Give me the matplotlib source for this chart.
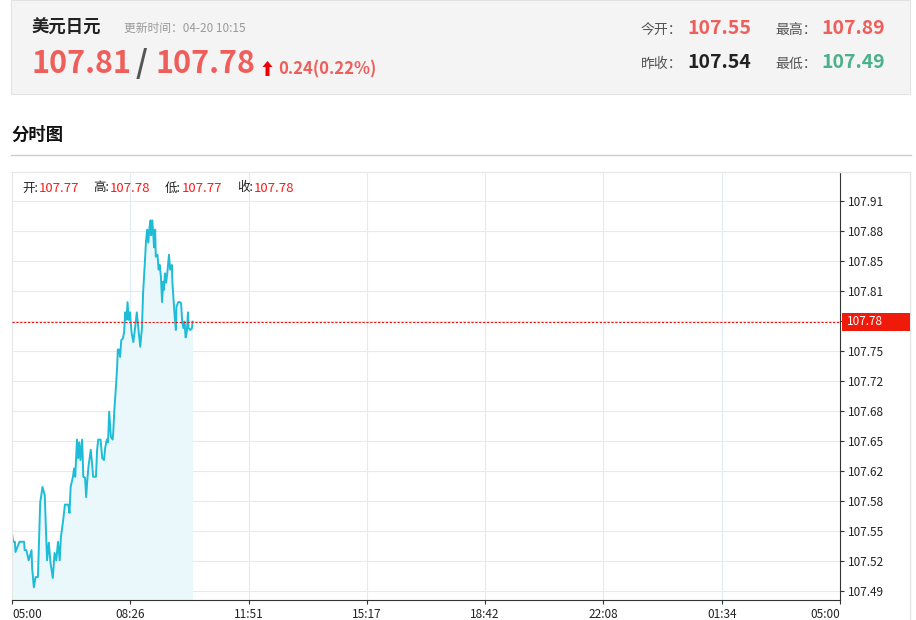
import matplotlib as mpl
mpl.use('Agg')
import matplotlib.pyplot as plt
from matplotlib.patches import Rectangle, Polygon
from matplotlib.lines import Line2D
import numpy as np

plt.rcParams['font.family'] = ['Noto Sans CJK SC', 'DejaVu Sans']

# quote header
pair_name = "美元日元"
update_time = "更新时间：04-20 10:15"
bid, ask = "107.81", "107.78"
change = "0.24(0.22%)"
stats = [("今开：", "107.55"), ("最高：", "107.89"),
         ("昨收：", "107.54"), ("最低：", "107.49")]
ohlc = [("开:", "107.77"), ("高:", "107.78"), ("低:", "107.77"), ("收:", "107.78")]
last_price = 107.78

# minutes after 05:00 and price
minutes = [0, 2, 5, 6, 13, 21, 22, 25, 29, 34, 35, 38, 41, 45, 46, 49, 53, 57, 59, 61,
           64, 67, 71, 74, 77, 80, 83, 85, 89, 92, 98, 100, 102, 106, 108, 110, 113, 115,
           117, 119, 122, 124, 127, 129, 131, 133, 137, 140, 141, 146, 148, 150, 154, 157,
           160, 162, 165, 167, 169, 172, 175, 176, 178, 181, 183, 184, 186, 188, 190, 193,
           195, 197, 199, 201, 203, 205, 208, 211, 214, 217, 220, 223, 226, 228, 231, 233,
           235, 237, 239, 241, 242, 244, 246, 247, 249, 250, 253, 255, 257, 259, 261, 263,
           264, 266, 268, 270, 273, 275, 278, 279, 281, 283, 285, 286, 289, 292, 294, 296,
           298, 300, 302, 304, 306, 307, 310, 313, 314]
prices = [107.552, 107.543, 107.543, 107.532, 107.543, 107.543, 107.534, 107.534, 107.523,
          107.534, 107.515, 107.494, 107.505, 107.505, 107.523, 107.585, 107.602, 107.593,
          107.556, 107.523, 107.542, 107.520, 107.504, 107.531, 107.523, 107.543, 107.523,
          107.548, 107.566, 107.583, 107.583, 107.574, 107.602, 107.613, 107.622, 107.613,
          107.653, 107.633, 107.650, 107.631, 107.653, 107.613, 107.612, 107.591, 107.610,
          107.624, 107.642, 107.622, 107.613, 107.613, 107.642, 107.653, 107.653, 107.633,
          107.631, 107.644, 107.653, 107.650, 107.683, 107.656, 107.653, 107.660, 107.685,
          107.712, 107.733, 107.750, 107.750, 107.742, 107.760, 107.762, 107.769, 107.790,
          107.782, 107.801, 107.782, 107.790, 107.768, 107.758, 107.773, 107.790, 107.771,
          107.753, 107.773, 107.811, 107.843, 107.866, 107.879, 107.865, 107.881, 107.889,
          107.873, 107.889, 107.871, 107.860, 107.879, 107.850, 107.852, 107.836, 107.841,
          107.828, 107.801, 107.823, 107.814, 107.832, 107.822, 107.832, 107.852, 107.836,
          107.841, 107.822, 107.803, 107.785, 107.771, 107.796, 107.801, 107.801, 107.800,
          107.780, 107.773, 107.780, 107.763, 107.769, 107.790, 107.773, 107.771, 107.773,
          107.780]

x_labels = ["05:00", "08:26", "11:51", "15:17", "18:42", "22:08", "01:34", "05:00"]
y_labels = ["107.49", "107.52", "107.55", "107.58", "107.62", "107.65", "107.68",
            "107.72", "107.75", "107.78", "107.81", "107.85", "107.88", "107.91"]

W, H = 916, 620
fig = plt.figure(figsize=(W / 100, H / 100), dpi=100)
fig.patch.set_facecolor('white')

def fx(x):
    return x / W

def fy(y):
    return 1 - y / H

RED = '#ee5f5b'

# header box
fig.patches.append(Rectangle((fx(11), fy(94)), fx(899), 94 / H, transform=fig.transFigure,
                             fc='#f4f4f4', ec='#e2e2e2', lw=0.8))
fig.text(fx(32), fy(28), pair_name, fontsize=12.5, fontweight='bold', color='#222',
         va='center')
fig.text(fx(124), fy(28), update_time, fontsize=8.5, color='#999', va='center')
fig.text(fx(31), fy(64), bid, fontsize=22, fontweight='bold', color=RED, va='center')
fig.text(fx(136), fy(64), "/", fontsize=22, fontweight='bold', color='#555', va='center')
fig.text(fx(156), fy(64), ask, fontsize=22, fontweight='bold', color=RED, va='center')
fig.patches.append(Polygon([(fx(267.5), fy(61)), (fx(272.5), fy(67)), (fx(269.5), fy(67)),
                            (fx(269.5), fy(76)), (fx(265.5), fy(76)), (fx(265.5), fy(67)),
                            (fx(262.5), fy(67))], closed=True, transform=fig.transFigure,
                           fc='#f00000', ec='none'))
fig.text(fx(278), fy(69), change, fontsize=12, fontweight='bold', color=RED, va='center')

stat_pos = [(641, 30), (775, 30), (641, 64), (775, 64)]
stat_cols = [RED, RED, '#222', '#4cb08a']
for (lab, val), (sx, sy), c in zip(stats, stat_pos, stat_cols):
    fig.text(fx(sx), fy(sy), lab, fontsize=10, color='#555', va='center')
    fig.text(fx(sx + 46), fy(sy - 1), val, fontsize=14, fontweight='bold', color=c,
             va='center')

fig.text(fx(11), fy(135), "分时图", fontsize=12.5, fontweight='bold', color='#111',
         va='center')
fig.lines.append(Line2D([fx(11), fx(911)], [fy(155), fy(155)], transform=fig.transFigure,
                        color='#cccccc', lw=1))

# chart frame pieces outside the axes
fig.lines.append(Line2D([fx(840), fx(910)], [fy(172), fy(172)], transform=fig.transFigure,
                        color='#e6e6e6', lw=1))
fig.lines.append(Line2D([fx(910), fx(910)], [fy(172), fy(620)], transform=fig.transFigure,
                        color='#e6e6e6', lw=1))

ax = fig.add_axes([fx(12), 20 / H, 828 / W, 428 / H])
ymin, ymax = 107.4803, 107.9411
ax.set_xlim(0, 1440)
ax.set_ylim(ymin, ymax)

xt = np.linspace(0, 1440, len(x_labels))
yt = np.linspace(107.49, 107.91, len(y_labels))
ax.set_xticks(xt)
ax.set_xticklabels(x_labels, fontsize=8.5, color='#222')
ax.set_yticks(yt)
ax.set_yticklabels(y_labels, fontsize=8.5, color='#222')
xl = ax.get_xticklabels()
xl[0].set_ha('left')
xl[-1].set_ha('right')
ax.yaxis.tick_right()
ax.tick_params(axis='y', length=3, width=0.8, color='#333', pad=3)
ax.tick_params(axis='x', length=3, width=0.8, color='#333', pad=3)

for v in yt:
    ax.axhline(v, color='#e1ebf3', lw=0.8, zorder=0)
for v in xt[1:-1]:
    ax.axvline(v, color='#e1ebf3', lw=0.8, zorder=0)

for s in ['left', 'top']:
    ax.spines[s].set_color('#e6e6e6')
for s in ['right', 'bottom']:
    ax.spines[s].set_color('#333333')
    ax.spines[s].set_linewidth(0.8)

ax.fill_between(minutes, prices, ymin, color='#eaf8fb', lw=0, zorder=1)
ax.plot(minutes, prices, color='#1ebcd6', lw=1.4, zorder=2)
ax.axhline(last_price, color='#f01010', lw=0.8, ls=(0, (2, 1.5)), zorder=3)

# last price tag on the right axis
py = ax.transData.transform((0, last_price))[1]
tag_h = 18
fig.patches.append(Rectangle((fx(842), (py - tag_h / 2) / H), fx(68), tag_h / H,
                             transform=fig.transFigure, fc='#f01a0a', ec='none', zorder=2))
fig.text(fx(847), py / H, "%.2f" % last_price, fontsize=8.5, color='white', va='center',
         zorder=3)

# O/H/L/C strip
ox = [22, 93, 165, 237]
for (lab, val), x0 in zip(ohlc, ox):
    fig.text(fx(x0), fy(188), lab, fontsize=9, color='#222', va='center')
    fig.text(fx(x0 + 17), fy(188), val, fontsize=9.5, color='#ff1a1a', va='center')

fig.savefig('out.png', dpi=100)
